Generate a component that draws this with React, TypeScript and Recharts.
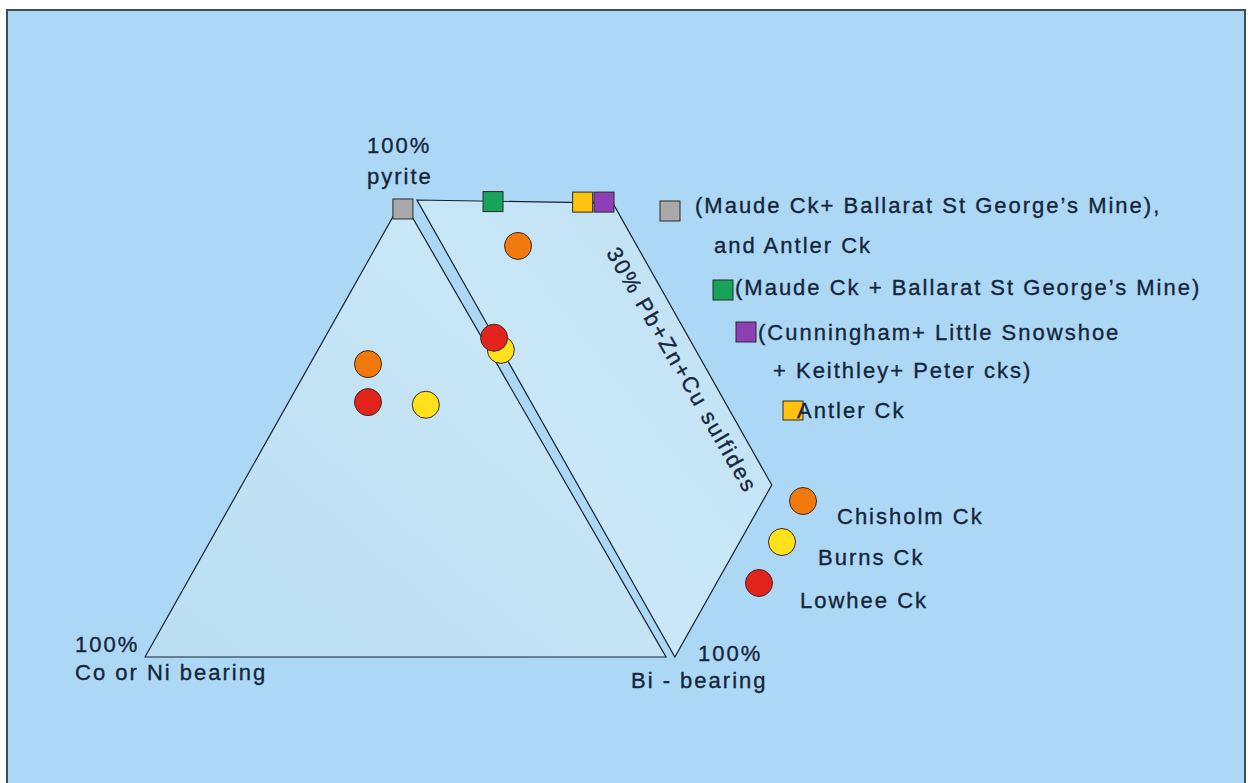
import { Scatter, ScatterChart, XAxis, YAxis } from 'recharts';

// diagram units: Co/Ni corner (0,0), Bi corner (100,0), pyrite apex on top
interface Pt {
  x: number;
  y: number;
}

const triangle: Pt[] = [
  { x: 0, y: 0 },
  { x: 49.4, y: 86.6 },
  { x: 100, y: 0 },
];

// 30% Pb+Zn+Cu sulfides face
const prismFace: Pt[] = [
  { x: 52.2, y: 86.6 },
  { x: 89.8, y: 86.0 },
  { x: 120.3, y: 32.6 },
  { x: 101.7, y: 0 },
];

const greySamples: Pt[] = [{ x: 49.5, y: 84.9 }];
const greenSamples: Pt[] = [{ x: 66.8, y: 86.3 }];
const antlerSamples: Pt[] = [{ x: 84.0, y: 86.2 }];
const purpleSamples: Pt[] = [{ x: 88.1, y: 86.2 }];

const chisholm: Pt[] = [
  { x: 71.6, y: 77.9 },
  { x: 42.8, y: 55.5 },
];
const burns: Pt[] = [
  { x: 53.9, y: 47.8 },
  { x: 68.3, y: 58.2 },
];
const lowhee: Pt[] = [
  { x: 42.8, y: 48.3 },
  { x: 67.0, y: 60.5 },
];

const X_DOMAIN = [-27.83, 213.24];
const Y_DOMAIN = [-23.88, 124.5];

const BG = '#acd8f6';
const INK = '#15253a';
const LINE = '#142230';
const FONT = '"Liberation Sans", Arial, sans-serif';

const COLORS = {
  grey: '#a9a9a9',
  green: '#17a35a',
  antler: '#ffc20e',
  purple: '#8e3fb6',
  orange: '#f27a0c',
  yellow: '#ffe21c',
  red: '#e2241c',
};

const polygon = (fill: string) => (props: any) => {
  const pts = (props.points || []).map((p: any) => `${p.x},${p.y}`).join(' ');
  return <polygon points={pts} fill={fill} stroke={LINE} strokeWidth={1.2} />;
};

const noSymbol = () => <g />;

const square = (fill: string) => (props: any) => (
  <rect
    x={props.cx - 10}
    y={props.cy - 10}
    width={20}
    height={20}
    fill={fill}
    stroke="#2b2b2b"
    strokeWidth={1}
  />
);

const circle = (fill: string) => (props: any) => (
  <circle cx={props.cx} cy={props.cy} r={13.5} fill={fill} stroke="#3a2a20" strokeWidth={1} />
);

const textStyle = {
  fontFamily: FONT,
  fontSize: 22,
  letterSpacing: 2,
  fill: INK,
  stroke: INK,
  strokeWidth: 0.35,
};

export default function App() {
  return (
    <div style={{ position: 'absolute', left: 0, top: 0, width: 1256, height: 783, background: '#fff', overflow: 'hidden' }}>
      <div
        style={{
          position: 'absolute',
          left: 6,
          top: 9,
          width: 1236,
          height: 790,
          background: BG,
          border: '2px solid #3b4c5c',
        }}
      />
      <div style={{ position: 'absolute', left: 0, top: 0 }}>
        <ScatterChart width={1256} height={783} margin={{ top: 0, right: 0, bottom: 0, left: 0 }}>
          <defs>
            <linearGradient id="triFill" x1="0" y1="1" x2="1" y2="0">
              <stop offset="0%" stopColor="#bbdef3" />
              <stop offset="100%" stopColor="#cce9f7" />
            </linearGradient>
            <linearGradient id="prismFill" x1="0" y1="1" x2="1" y2="0">
              <stop offset="0%" stopColor="#d0ebf8" />
              <stop offset="100%" stopColor="#bfe1f4" />
            </linearGradient>
          </defs>
          <XAxis type="number" dataKey="x" domain={X_DOMAIN} hide allowDataOverflow />
          <YAxis type="number" dataKey="y" domain={Y_DOMAIN} hide allowDataOverflow />
          <Scatter
            data={[...triangle, triangle[0]]}
            line={polygon('url(#triFill)')}
            shape={noSymbol}
            isAnimationActive={false}
          />
          <Scatter
            data={[...prismFace, prismFace[0]]}
            line={polygon('url(#prismFill)')}
            shape={noSymbol}
            isAnimationActive={false}
          />
          <Scatter data={greySamples} shape={square(COLORS.grey)} isAnimationActive={false} />
          <Scatter data={greenSamples} shape={square(COLORS.green)} isAnimationActive={false} />
          <Scatter data={antlerSamples} shape={square(COLORS.antler)} isAnimationActive={false} />
          <Scatter data={purpleSamples} shape={square(COLORS.purple)} isAnimationActive={false} />
          <Scatter data={chisholm} shape={circle(COLORS.orange)} isAnimationActive={false} />
          <Scatter data={burns} shape={circle(COLORS.yellow)} isAnimationActive={false} />
          <Scatter data={lowhee} shape={circle(COLORS.red)} isAnimationActive={false} />
        </ScatterChart>
      </div>
      <svg
        width={1256}
        height={783}
        style={{ position: 'absolute', left: 0, top: 0, pointerEvents: 'none' }}
      >
        <g style={textStyle}>
          <text x={367} y={153}>100%</text>
          <text x={367} y={184}>pyrite</text>
          <text x={75} y={652}>100%</text>
          <text x={75} y={680}>Co or Ni bearing</text>
          <text x={698} y={661}>100%</text>
          <text x={631} y={688}>Bi - bearing</text>
          <text
            x={682}
            y={370}
            textAnchor="middle"
            dominantBaseline="central"
            transform="rotate(60 682 370)"
          >
            30% Pb+Zn+Cu sulfides
          </text>
        </g>

        <rect x={660} y={201} width={20} height={20} fill={COLORS.grey} stroke="#2b2b2b" />
        <rect x={713} y={280} width={20} height={20} fill={COLORS.green} stroke="#2b2b2b" />
        <rect x={736} y={322} width={20} height={20} fill={COLORS.purple} stroke="#2b2b2b" />
        <rect x={783} y={401} width={20} height={19} fill={COLORS.antler} stroke="#2b2b2b" />
        <circle cx={803} cy={501} r={13.5} fill={COLORS.orange} stroke="#3a2a20" />
        <circle cx={782} cy={542} r={13.5} fill={COLORS.yellow} stroke="#3a2a20" />
        <circle cx={759} cy={583} r={13.5} fill={COLORS.red} stroke="#3a2a20" />

        <g style={textStyle}>
          <text x={695} y={213}>(Maude Ck+ Ballarat St George’s Mine),</text>
          <text x={714} y={253}>and Antler Ck</text>
          <text x={735} y={295}>(Maude Ck + Ballarat St George’s Mine)</text>
          <text x={758} y={340}>(Cunningham+ Little Snowshoe</text>
          <text x={773} y={378}>+ Keithley+ Peter cks)</text>
          <text x={797} y={418}>Antler Ck</text>
          <text x={837} y={524}>Chisholm Ck</text>
          <text x={818} y={565}>Burns Ck</text>
          <text x={800} y={608}>Lowhee Ck</text>
        </g>
      </svg>
    </div>
  );
}
